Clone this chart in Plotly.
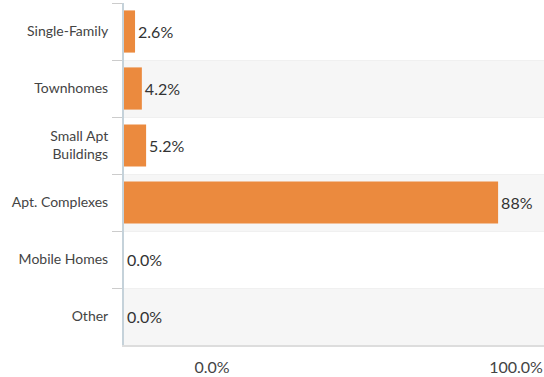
import plotly.graph_objects as go

categories = ["Single-Family", "Townhomes", "Small Apt<br>Buildings", "Apt. Complexes", "Mobile Homes", "Other"]
values = [2.6, 4.2, 5.2, 88, 0.0, 0.0]
value_labels = ["2.6%", "4.2%", "5.2%", "88%", "0.0%", "0.0%"]
tick_values = [0, 100]
tick_labels = ["0.0%", "100.0%"]

BAR = "#EB8A3E"
FONT = "Lato, 'Open Sans', sans-serif"

fig = go.Figure()

fig.add_trace(go.Bar(
    x=values, y=categories, orientation="h",
    marker=dict(color=BAR, line=dict(width=0)),
    width=0.74,
    text=value_labels, textposition="outside", cliponaxis=False,
    textfont=dict(family=FONT, size=16, color="#333333"),
    hoverinfo="skip", showlegend=False,
))

# invisible trace to carry the label axis
fig.add_trace(go.Scatter(
    x=tick_values, y=[categories[0], categories[0]], xaxis="x2",
    mode="markers", marker=dict(opacity=0), hoverinfo="skip", showlegend=False,
))

# alternating row shading
shapes = []
for i, c in enumerate(categories):
    if i % 2 == 1:
        shapes.append(dict(type="rect", xref="x domain", yref="y",
                           x0=0, x1=1, y0=i - 0.5, y1=i + 0.5,
                           fillcolor="#f6f6f6", line=dict(width=0), layer="below"))

fig.update_layout(
    width=544, height=377,
    margin=dict(l=124, r=0, t=3, b=32),
    paper_bgcolor="white", plot_bgcolor="white",
    font=dict(family=FONT, color="#444444"),
    shapes=shapes,
    bargap=0.26,
    xaxis=dict(range=[0, 98.8], showticklabels=False, showgrid=False, zeroline=False,
               showline=True, linecolor="#dddddd", linewidth=2, ticks=""),
    xaxis2=dict(overlaying="x", side="bottom", anchor="y",
                range=[(124 - 212) / 3.04, (544 - 212) / 3.04],
                tickvals=tick_values, ticktext=tick_labels,
                showgrid=False, zeroline=False, showline=False,
                ticks="outside", ticklen=8, tickcolor="rgba(0,0,0,0)",
                tickfont=dict(family=FONT, size=16, color="#444444")),
    yaxis=dict(autorange="reversed", tickson="boundaries", ticks="outside",
               ticklen=10, tickcolor="#cccccc", tickwidth=1,
               showgrid=True, gridcolor="#f0f0f0",
               showline=True, linecolor="#c5d2da", linewidth=2,
               ticklabelstandoff=11,
               tickfont=dict(family=FONT, size=14, color="#444444")),
)

fig.write_html("out.html")
